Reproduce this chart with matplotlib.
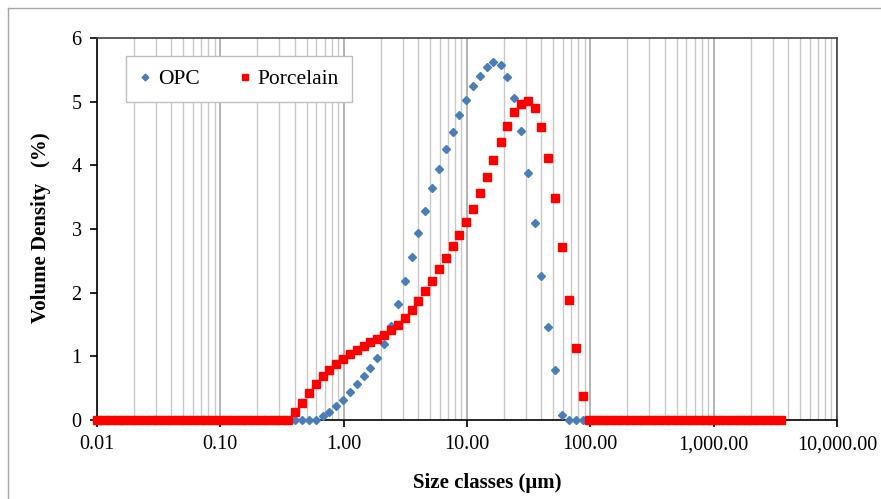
import matplotlib
matplotlib.use("Agg")
import matplotlib.pyplot as plt
from matplotlib.ticker import FixedLocator, NullFormatter
from matplotlib.lines import Line2D

# size classes (um), laser diffraction bins
size_classes = [
    0.0100, 0.0114, 0.0129, 0.0147, 0.0167, 0.0189, 0.0215, 0.0244, 0.0278, 0.0315,
    0.0358, 0.0407, 0.0463, 0.0526, 0.0597, 0.0679, 0.0771, 0.0876, 0.0995, 0.113,
    0.128, 0.146, 0.166, 0.188, 0.214, 0.243, 0.276, 0.314, 0.357, 0.405,
    0.460, 0.523, 0.594, 0.675, 0.767, 0.872, 0.991, 1.13, 1.28, 1.45,
    1.65, 1.88, 2.13, 2.42, 2.75, 3.12, 3.55, 4.03, 4.58, 5.21,
    5.92, 6.72, 7.64, 8.68, 9.86, 11.2, 12.7, 14.5, 16.4, 18.7,
    21.2, 24.1, 27.4, 31.1, 35.3, 40.1, 45.6, 51.8, 58.9, 66.9,
    76.0, 86.4, 98.1, 111, 127, 144, 163, 186, 211, 240,
    272, 310, 352, 400, 454, 516, 586, 666, 756, 859,
    976, 1110, 1260, 1430, 1630, 1850, 2100, 2390, 2710, 3080,
    3500,
]

opc = [
    0, 0, 0, 0, 0, 0, 0, 0, 0, 0,
    0, 0, 0, 0, 0, 0, 0, 0, 0, 0,
    0, 0, 0, 0, 0, 0, 0, 0, 0, 0,
    0, 0, 0, 0.06, 0.13, 0.22, 0.32, 0.44, 0.57, 0.69,
    0.82, 0.98, 1.19, 1.48, 1.82, 2.18, 2.56, 2.93, 3.29, 3.64,
    3.95, 4.25, 4.52, 4.79, 5.02, 5.24, 5.41, 5.55, 5.62, 5.58,
    5.39, 5.06, 4.54, 3.88, 3.10, 2.26, 1.46, 0.78, 0.08, 0,
    0, 0, 0, 0, 0, 0, 0, 0, 0, 0,
    0, 0, 0, 0, 0, 0, 0, 0, 0, 0,
    0, 0, 0, 0, 0, 0, 0, 0, 0, 0,
    0,
]

porcelain = [
    0, 0, 0, 0, 0, 0, 0, 0, 0, 0,
    0, 0, 0, 0, 0, 0, 0, 0, 0, 0,
    0, 0, 0, 0, 0, 0, 0, 0, 0, 0.13,
    0.27, 0.42, 0.56, 0.69, 0.79, 0.88, 0.96, 1.03, 1.10, 1.17,
    1.23, 1.28, 1.34, 1.41, 1.49, 1.60, 1.72, 1.87, 2.02, 2.19,
    2.37, 2.54, 2.73, 2.91, 3.11, 3.32, 3.57, 3.81, 4.08, 4.36,
    4.62, 4.83, 4.97, 5.01, 4.90, 4.60, 4.12, 3.48, 2.71, 1.89,
    1.13, 0.37, 0, 0, 0, 0, 0, 0, 0, 0,
    0, 0, 0, 0, 0, 0, 0, 0, 0, 0,
    0, 0, 0, 0, 0, 0, 0, 0, 0, 0,
    0,
]

x_ticks = [0.01, 0.1, 1, 10, 100, 1000, 10000]
x_tick_labels = ["0.01", "0.10", "1.00", "10.00", "100.00", "1,000.00", "10,000.00"]
y_ticks = [0, 1, 2, 3, 4, 5, 6]

plt.rcParams['font.family'] = ['Liberation Serif', 'DejaVu Serif']

fig = plt.figure(figsize=(8.81, 4.99), dpi=100)
ax = fig.add_axes([97 / 881, 1 - 420 / 499, 740 / 881, 382 / 499])

ax.set_xscale('log')
ax.set_xlim(0.01, 10000)
ax.set_ylim(0, 6)

# vertical grid only, major a bit darker than minor
minor_ticks = [m * 10.0 ** e for e in range(-2, 4) for m in range(2, 10)]
ax.xaxis.set_major_locator(FixedLocator(x_ticks))
ax.xaxis.set_minor_locator(FixedLocator(minor_ticks))
ax.xaxis.set_minor_formatter(NullFormatter())
ax.set_xticklabels(x_tick_labels)
ax.set_yticks(y_ticks)
ax.grid(True, axis='x', which='minor', color='#c8c8c8', linewidth=1.0)
ax.grid(True, axis='x', which='major', color='#a6a6a6', linewidth=1.2)
ax.set_axisbelow(True)

ax.plot(size_classes, opc, linestyle='none', marker='D', markersize=3.8,
        color='#4a7ebb', label='OPC', clip_on=False, zorder=3)
ax.plot(size_classes, porcelain, linestyle='none', marker='s', markersize=5.4,
        color='#ff0000', label='Porcelain', clip_on=False, zorder=4)

for s in ax.spines.values():
    s.set_color('black')
    s.set_linewidth(1.2)
ax.spines['top'].set_color('#404040')
ax.spines['right'].set_color('#404040')

ax.tick_params(axis='both', which='major', direction='out', length=5, width=1.2,
               labelsize=14.5, pad=6)
ax.tick_params(axis='x', which='minor', length=0)
ax.tick_params(axis='x', which='major', pad=6)

ax.set_xlabel('Size classes (\u03bcm)', fontsize=15, fontweight='bold')
ax.xaxis.set_label_coords((487 - 97) / 740, (420 - 473) / 382)
ax.set_ylabel('Volume Density   (%)', fontsize=15, fontweight='bold')
ax.yaxis.set_label_coords((51 - 97) / 740, 0.503)

leg = ax.legend(loc='center', bbox_to_anchor=(0.034, 0.830, 0.315, 0.125),
                ncol=2, fontsize=15.5, frameon=True, fancybox=False,
                edgecolor='#bfbfbf', framealpha=1, handlelength=0.6,
                handletextpad=0.3, columnspacing=1.8, borderpad=0.6,
                markerscale=0.9)
leg.get_frame().set_linewidth(1.0)
leg.set_zorder(5)

# outer chart border (cropped at right/bottom in reference)
fig.add_artist(Line2D([8 / 881, 1.0], [1 - 8 / 499, 1 - 8 / 499], color='#a6a6a6', linewidth=1.0))
fig.add_artist(Line2D([8 / 881, 8 / 881], [0, 1 - 8 / 499], color='#a6a6a6', linewidth=1.0))

fig.savefig('out.png', dpi=100)
